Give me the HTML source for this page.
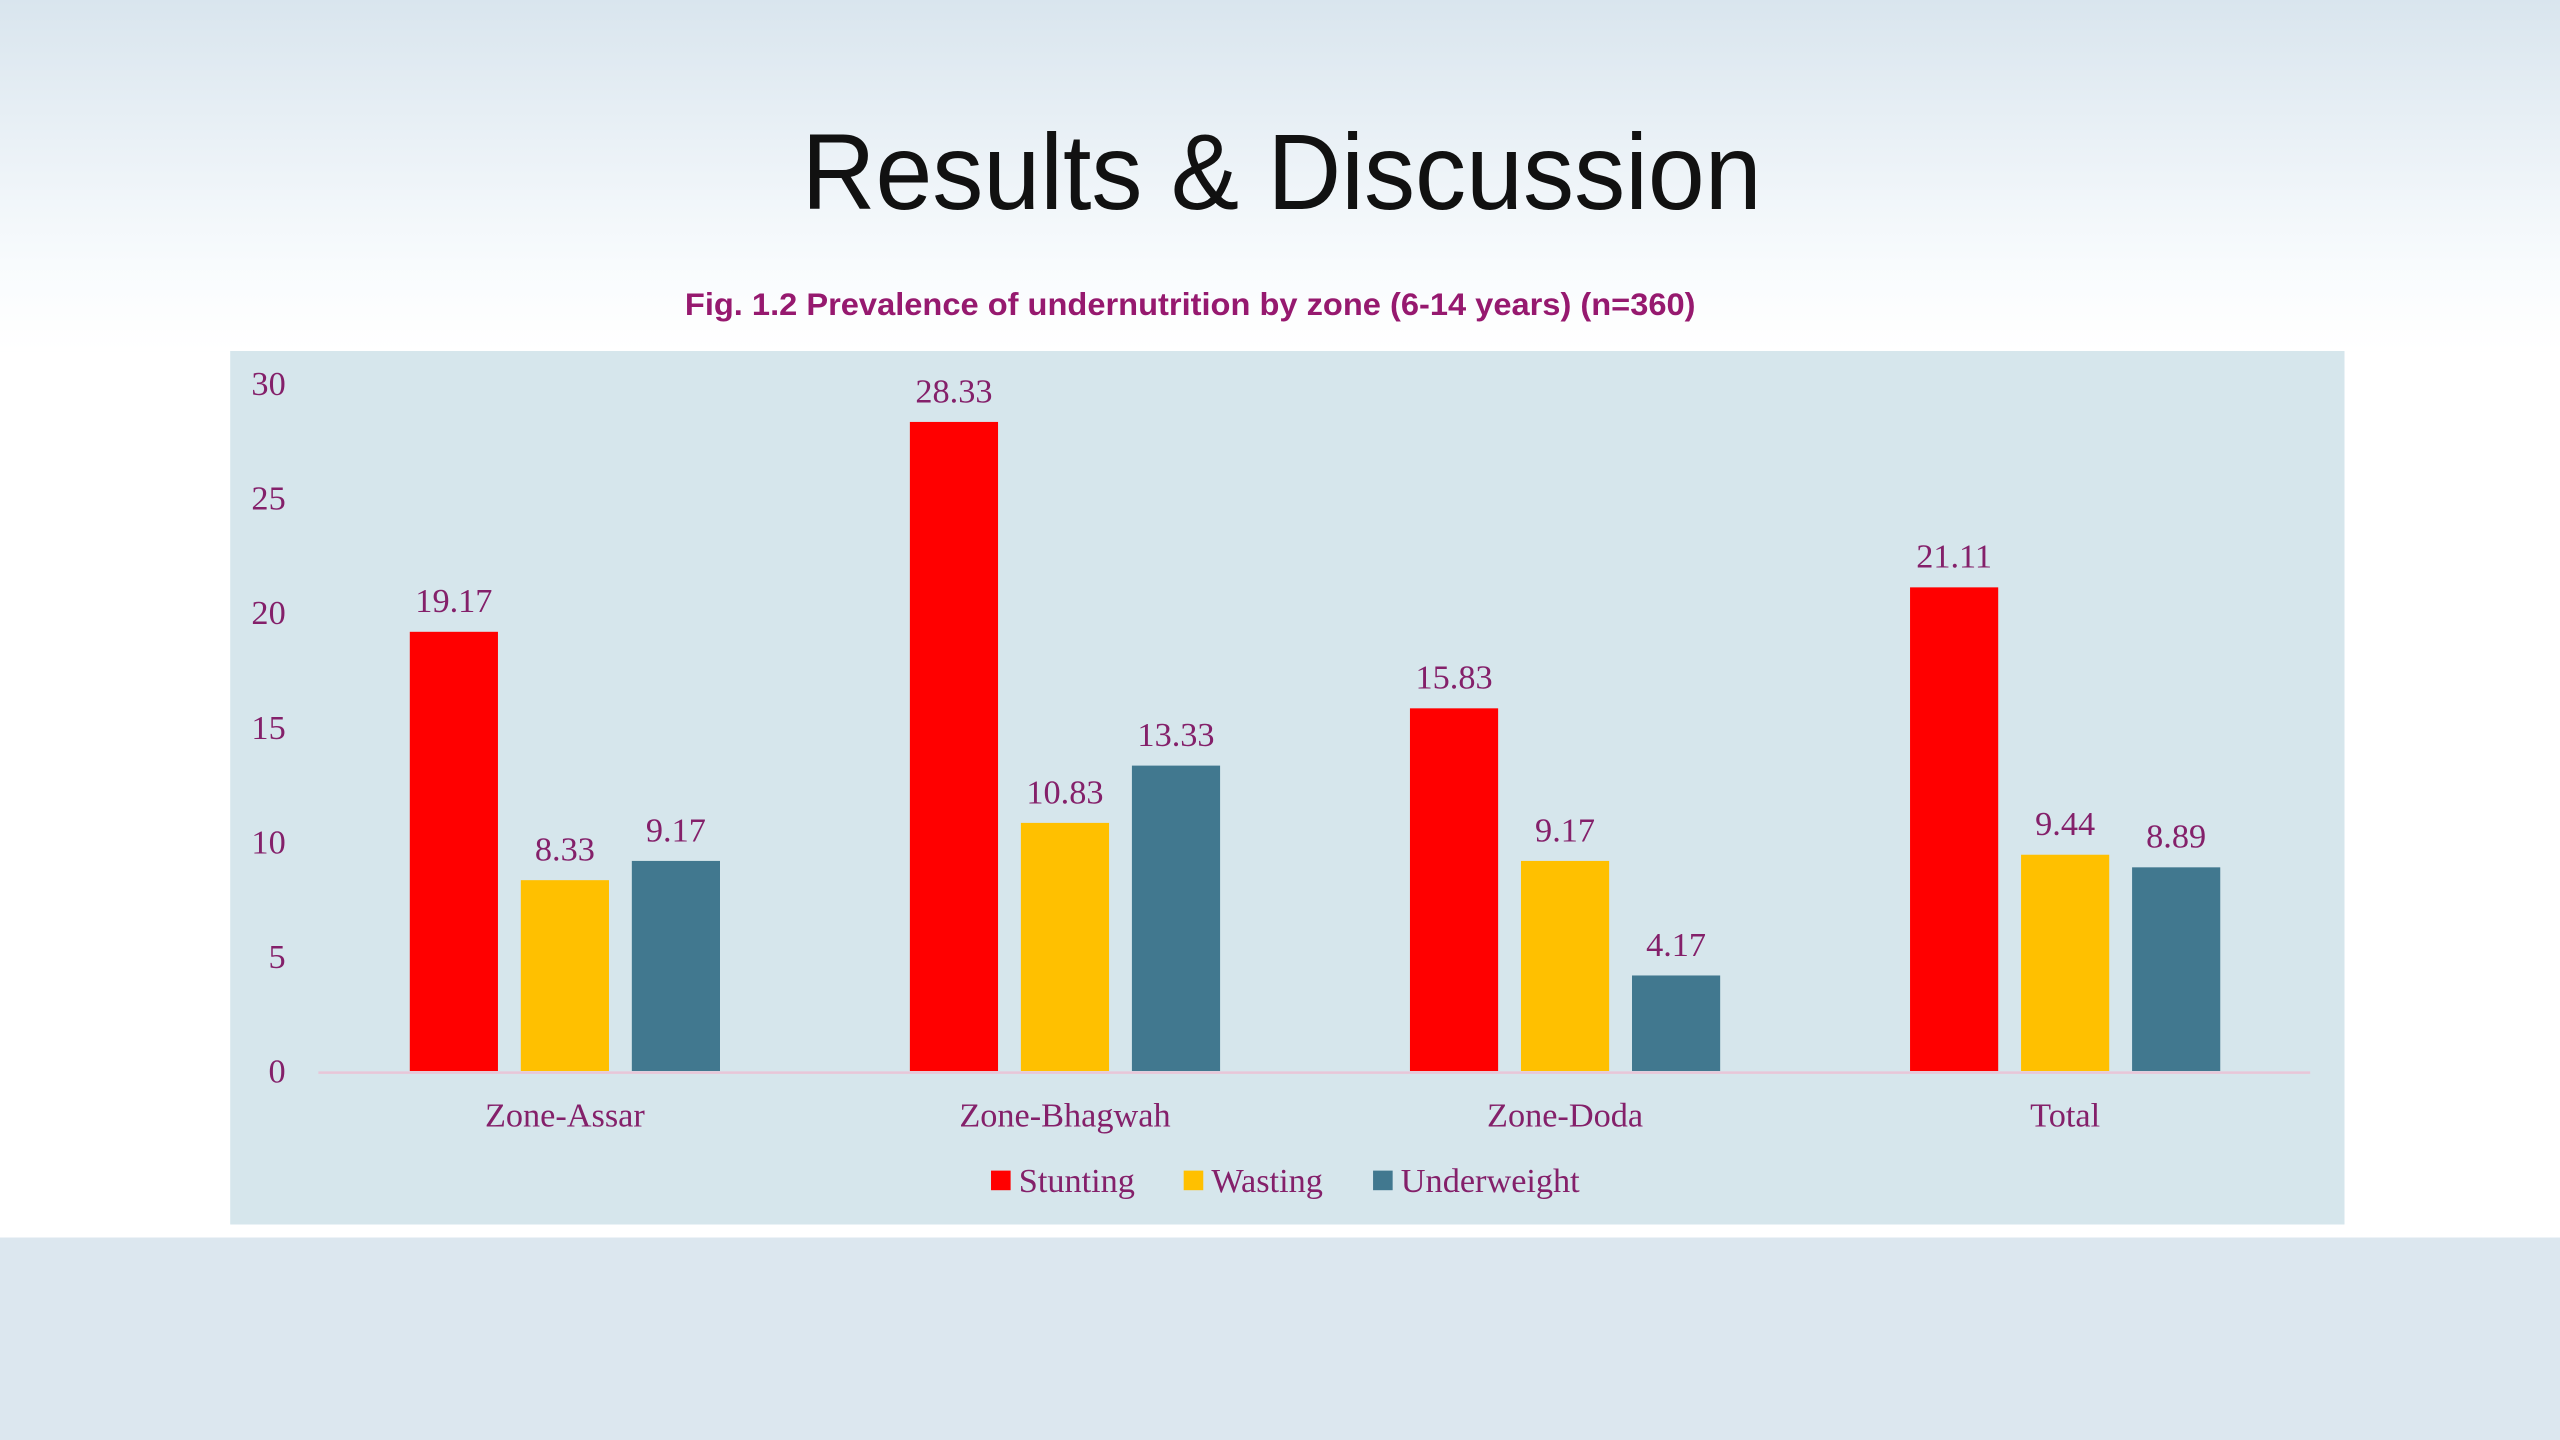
<!DOCTYPE html>
<html><head><meta charset="utf-8"><style>
html,body{margin:0;padding:0;width:2560px;height:1440px;overflow:hidden;background:#dce7ef}
svg{display:block}
</style></head><body>
<svg width="2560" height="1440" viewBox="0 0 1568 882" xmlns="http://www.w3.org/2000/svg">
<defs><linearGradient id="bg" x1="0" y1="0" x2="0" y2="1">
<stop offset="0" stop-color="#d9e5ee"/><stop offset="0.75" stop-color="#f8fbfd"/><stop offset="1" stop-color="#ffffff"/></linearGradient></defs>
<rect x="0" y="0" width="1568" height="215" fill="url(#bg)"/>
<rect x="0" y="215" width="1568" height="543" fill="#ffffff"/>
<rect x="0" y="758" width="1568" height="124" fill="#dce7ef"/>
<text x="785" y="128" text-anchor="middle" font-family="Liberation Sans, sans-serif" font-size="66" fill="#111" textLength="588" lengthAdjust="spacingAndGlyphs">Results &amp; Discussion</text>
<text x="729" y="193" text-anchor="middle" font-family="Liberation Sans, sans-serif" font-weight="bold" font-size="19" fill="#96196f" textLength="619" lengthAdjust="spacingAndGlyphs">Fig. 1.2 Prevalence of undernutrition by zone (6-14 years) (n=360)</text>
<rect x="141" y="215" width="1295" height="535" fill="#d6e6ec"/>
<g id="yaxis"></g>
<line x1="195" y1="657" x2="1415" y2="657" stroke="#e8c6d8" stroke-width="1.5"/>
<g id="bars"></g>
<g id="legend"></g>
</svg>
<script>
const categories = ["Zone-Assar","Zone-Bhagwah","Zone-Doda","Total"];
const stunting = [19.17, 28.33, 15.83, 21.11];
const wasting = [8.33, 10.83, 9.17, 9.44];
const underweight = [9.17, 13.33, 4.17, 8.89];
const yTicks = [0,5,10,15,20,25,30];
const seriesNames = ["Stunting","Wasting","Underweight"];

const NS="http://www.w3.org/2000/svg";
const seriesData=[stunting,wasting,underweight];
const colors=["#ff0000","#ffc000","#41788f"];
const textColor="#84206a";
function y(v){return 656 - v*(656-235)/30;}
function xCenter(i){return 346 + i*306.3;}
function mk(tag,attrs,parent){const e=document.createElementNS(NS,tag);for(const k in attrs)e.setAttribute(k,attrs[k]);parent.appendChild(e);return e;}
const ya=document.getElementById('yaxis');
yTicks.forEach(t=>{
  const e=mk('text',{x:175,y:y(t)+7,'text-anchor':'end','font-family':'Liberation Serif, serif','font-size':21,fill:textColor},ya);
  
  
  e.textContent=t;
});
const bg=document.getElementById('bars');
categories.forEach((c,i)=>{
  const cx=xCenter(i);
  seriesData.forEach((s,j)=>{
    const bx=cx+(j-1)*68-27;
    const r=mk('rect',{x:bx,y:y(s[i]),width:54,height:y(0)-y(s[i]),fill:colors[j]},bg);
    
    
    const t=mk('text',{x:bx+27,y:y(s[i])-12,'text-anchor':'middle','font-family':'Liberation Serif, serif','font-size':21,fill:textColor},bg);
    
    
    t.textContent=s[i].toFixed(2);
  });
  const l=mk('text',{x:cx,y:690,'text-anchor':'middle','font-family':'Liberation Serif, serif','font-size':21,fill:textColor},bg);
  
  
  l.textContent=c;
});
const lg=document.getElementById('legend');
const lx=[607,725,841];
seriesNames.forEach((n,j)=>{
  const r=mk('rect',{x:lx[j],y:717,width:12,height:12,fill:colors[j]},lg);
  
  
  const t=mk('text',{x:lx[j]+17,y:730,'font-family':'Liberation Serif, serif','font-size':21,fill:textColor},lg);
  
  
  t.textContent=n;
});
</script>
</body></html>
